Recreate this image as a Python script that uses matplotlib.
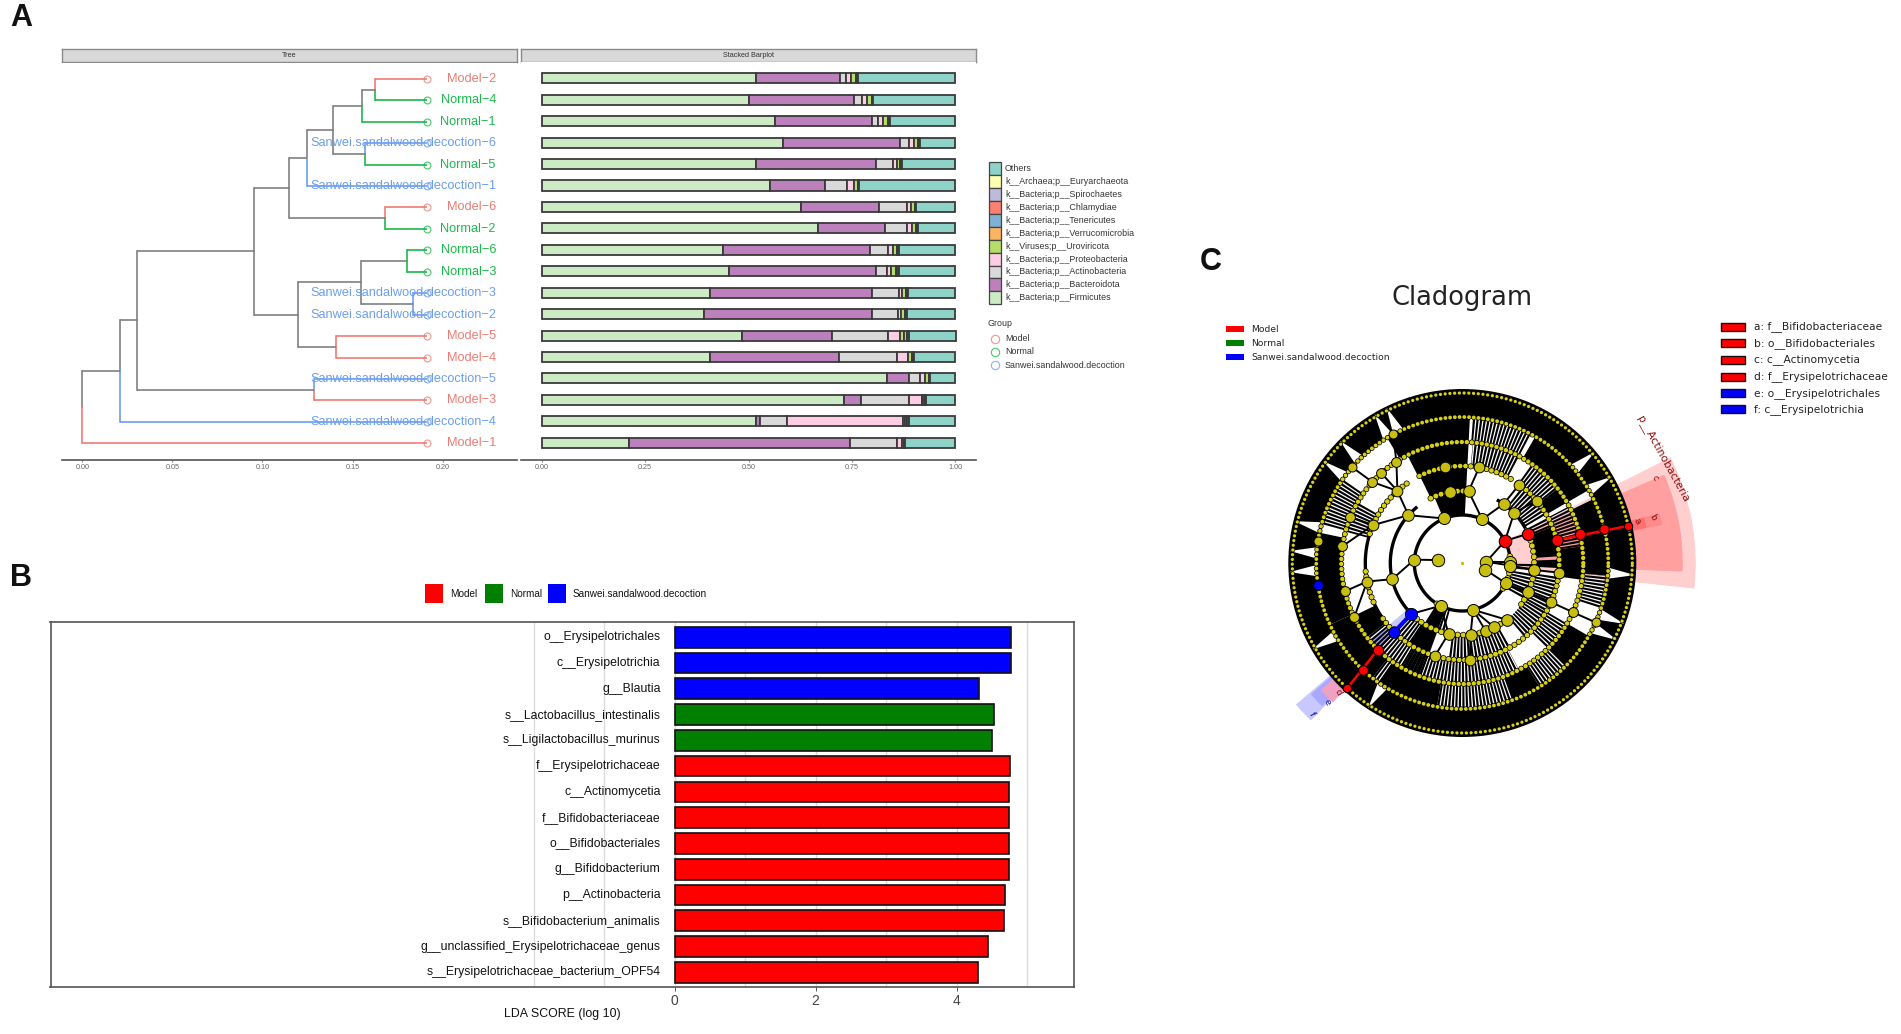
import numpy as np
import matplotlib
matplotlib.use("Agg")
import matplotlib.pyplot as plt
from matplotlib.patches import Rectangle

plt.rcParams['font.family'] = ['Liberation Sans', 'DejaVu Sans']
plt.rcParams['lines.scale_dashes'] = False

W, H = 1901, 1034

# --- Panel A: tree + stacked bars ---
SAMPLES = ["Model-2", "Normal-4", "Normal-1", "Sanwei.sandalwood.decoction-6", "Normal-5",
           "Sanwei.sandalwood.decoction-1", "Model-6", "Normal-2", "Normal-6", "Normal-3",
           "Sanwei.sandalwood.decoction-3", "Sanwei.sandalwood.decoction-2", "Model-5", "Model-4",
           "Sanwei.sandalwood.decoction-5", "Model-3", "Sanwei.sandalwood.decoction-4", "Model-1"]

# (branch position, upper child, lower child), tips are sample names
TREE = (0.0,
        (0.0207,
         (0.0306,
          (0.0954,
           (0.1145,
            (0.1245,
             (0.1392,
              (0.1551, (0.1625, "Model-2", "Normal-4"), "Normal-1"),
              (0.1568, "Sanwei.sandalwood.decoction-6", "Normal-5")),
             "Sanwei.sandalwood.decoction-1"),
            (0.1683, "Model-6", "Normal-2")),
           (0.1195,
            (0.1545,
             (0.1805, "Normal-6", "Normal-3"),
             (0.1837, "Sanwei.sandalwood.decoction-3", "Sanwei.sandalwood.decoction-2")),
            (0.1411, "Model-5", "Model-4"))),
          (0.1285, "Sanwei.sandalwood.decoction-5", "Model-3")),
         "Sanwei.sandalwood.decoction-4"),
        "Model-1")
TIP_X = 0.1913

firmicutes = [.517, .501, .564, .583, .517, .553, .628, .669, .438, .453, .407, .393, .484, .407, .836, .732, .519, .211]
bacteroidota = [.205, .253, .235, .283, .292, .131, .187, .162, .355, .356, .392, .406, .217, .311, .052, .039, .008, .535]
actinobacteria = [.013, .020, .013, .023, .040, .054, .068, .052, .044, .025, .065, .063, .136, .141, .026, .118, .067, .113]
proteobacteria = [.014, .013, .013, .012, .009, .016, .010, .012, .012, .011, .007, .007, .030, .027, .012, .030, .280, .011]
uroviricota = [.012, .012, .012, .009, .009, .010, .009, .010, .010, .012, .010, .010, .010, .009, .010, .003, .005, .007]
verrucomicrobia = [.002, .002, .002, .002, .002, .002, .002, .003, .002, .003, .002, .002, .005, .002, .002, .004, .005, .001]
tenericutes = [.001, .001, .002, .002, .001, .002, .001, .002, .002, .003, .002, .002, .005, .002, .001, .003, .005, .000]
others = [.236, .198, .159, .086, .130, .232, .095, .090, .137, .137, .115, .117, .115, .101, .061, .071, .111, .122]

PHYLA = ["k__Bacteria;p__Firmicutes", "k__Bacteria;p__Bacteroidota", "k__Bacteria;p__Actinobacteria",
         "k__Bacteria;p__Proteobacteria", "k__Viruses;p__Uroviricota", "k__Bacteria;p__Verrucomicrobia",
         "k__Bacteria;p__Tenericutes", "k__Bacteria;p__Chlamydiae", "k__Bacteria;p__Spirochaetes",
         "k__Archaea;p__Euryarchaeota", "Others"]
PHYLA_COLORS = ["#CCEBC5", "#BC80BD", "#D9D9D9", "#FCCDE5", "#B3DE69", "#FDB462",
                "#80B1D3", "#FB8072", "#BEBADA", "#FFFFB3", "#8DD3C7"]
STACK = [firmicutes, bacteroidota, actinobacteria, proteobacteria, uroviricota,
         verrucomicrobia, tenericutes, others]
STACK_COLORS = ["#CCEBC5", "#BC80BD", "#D9D9D9", "#FCCDE5", "#B3DE69", "#FDB462", "#80B1D3", "#8DD3C7"]

GROUP_NAMES = ["Model", "Normal", "Sanwei.sandalwood.decoction"]
GROUP_COLORS = {"Model": "#EE7B73", "Normal": "#1DB84C", "Sanwei": "#6C9EF0"}

# --- Panel B: LDA scores ---
lda_labels = ["o__Erysipelotrichales", "c__Erysipelotrichia", "g__Blautia", "s__Lactobacillus_intestinalis",
              "s__Ligilactobacillus_murinus", "f__Erysipelotrichaceae", "c__Actinomycetia",
              "f__Bifidobacteriaceae", "o__Bifidobacteriales", "g__Bifidobacterium", "p__Actinobacteria",
              "s__Bifidobacterium_animalis", "g__unclassified_Erysipelotrichaceae_genus",
              "s__Erysipelotrichaceae_bacterium_OPF54"]
lda_scores = [4.776, 4.776, 4.32, 4.527, 4.507, 4.756, 4.746, 4.746, 4.746, 4.746, 4.687, 4.677, 4.438, 4.30]
lda_groups = ["Sanwei"] * 3 + ["Normal"] * 2 + ["Model"] * 9
LDA_COLORS = {"Model": "#FF0000", "Normal": "#007F00", "Sanwei": "#0000FF"}

# --- Panel C: cladogram, angles in degrees, radii in px ---
CLADE_LEGEND = ["a: f__Bifidobacteriaceae", "b: o__Bifidobacteriales", "c: c__Actinomycetia",
                "d: f__Erysipelotrichaceae", "e: o__Erysipelotrichales", "f: c__Erysipelotrichia"]
CLADE_LEGEND_COLORS = ["#FF0000"] * 4 + ["#0000FF"] * 2
RINGS = [24, 48, 72, 97, 121, 146, 170]

# solid black and striped stretches of each gap between rings (inner ring index -> spans)
gap_solid = {1: [(87, 113), (238, 250)],
             2: [(87, 116), (4, 22), (-3, 2), (236, 250)],
             3: [(87, 117), (30, 38), (-8, 8), (206, 218)],
             4: [(87, 121), (30, 60), (-5, 26), (-45, -30), (-70, -58), (-125, -100), (168, 205), (205, 232)],
             5: [(0, 360)]}
gap_stripes = {1: [(-30, -8), (-6, 0), (250, 256)],
               2: [(-30, -8), (30, 52), (225, 236), (22, 28), (-50, -30), (-98, -60)],
               3: [(-45, -30), (8, 28), (38, 55), (62, 85), (218, 250), (-120, -62), (150, 165)],
               4: [(62, 86), (145, 165), (-18, -5), (-58, -45), (-100, -70), (232, 240)]}
# rings carrying the small dots
bead_spans = {1: [(108, 116), (-32, 8), (238, 248)],
              2: [(85, 118), (-35, 22), (222, 308)],
              3: [(60, 118), (5, 58), (-70, 5), (215, 300), (125, 165), (185, 205)],
              4: [(0, 360)],
              5: [(0, 360)],
              6: [(0, 360)]}
bead_widths = {1: 3.6, 2: 3.6, 3: 3.4, 4: 3.2, 5: 2.8, 6: 2.4}
bead_steps = {1: 4.0, 2: 4.0, 3: 3.8, 4: 3.6, 5: 3.4, 6: 3.4}
# black clade arcs
clade_arcs = [(48, 0, 360), (72, 130, 225), (72, 250, 308), (97, 135, 225), (121, 145, 200), (72, 30, 60)]
# white spikes through the outer black band
spike_angles = [176, 166, 143.8, 135, 120.5, 116, -20.6, -26.5, -4, 210, 237, 183, 40, 30]

node_angles = {
    0: [173, 3, -16],
    1: [176, 112, 65.5, 27.3, 1, -3, -25, -77, 243],
    2: [138.4, 193, 55, 44, 24, 225, 259, -83.4, -71, -63.5, -52, -5.5, -24, 100, 85],
    3: [157, 132, 191, 54, 40, 13.7, 225.4, 253.6, -85.5, -5.7, -23.8, 100, 80],
    4: [157.6, 172, 138, 132, 123, 193.6, 206.7, 225.7, -24, 13.7],
    5: [171.3, 139, 118.3, 188.7, 227.3, 13.6, -24],
    6: [227.4, 12.6],
}
node_sizes = {0: 80, 1: 75, 2: 70, 3: 60, 4: 50, 5: 42, 6: 30}
red_nodes = [(1, 27.3), (2, 24), (3, 13.7), (4, 13.7), (5, 13.6), (6, 12.6), (4, 225.7), (5, 227.3), (6, 227.4)]
blue_nodes = [(2, 225), (3, 225.4), (5, 188.7)]
# highlight wedges: name, start, end, inner, outer, colour
clade_wedges = [("p", -6.2, 26.8, 47, 233, "#FFCFCF"), ("c", -2.1, 23.5, 72, 220, "#FF9F9F"),
                ("b", 10.9, 14.0, 97, 203, "#FF8A8A"), ("a", 10.9, 13.9, 121, 187, "#FF7070"),
                ("f", 220.5, 226.0, 71, 218, "#C8C8FF"), ("e", 221.0, 225.5, 97, 200, "#A8A8FF"),
                ("d", 222.0, 227.0, 121, 190, "#F0A0C0")]
CLADE_YELLOW = "#C8BE10"
BEAD_YELLOW = "#D8D014"


def px_axes(x0, y0, x1, y1, **kwargs):
    return fig.add_axes([x0 / W, 1 - y1 / H, (x1 - x0) / W, (y1 - y0) / H], **kwargs)


def group_of(name):
    return name.split(".")[0].split("-")[0]


def draw_tree(ax, node, rows):
    """Draws a clade and returns (x, y, colour) of its top."""
    if isinstance(node, str):
        c = GROUP_COLORS[group_of(node)]
        return TIP_X, rows[node], c
    x = node[0]
    ys = []
    for child in node[1:]:
        cx, cy, c = draw_tree(ax, child, rows)
        ax.plot([x, cx], [cy, cy], color=c, lw=1.2, solid_capstyle='butt', zorder=2)
        ys.append((cy, c))
    mid = sum(y for y, _ in ys) / 2
    for cy, c in ys:
        ax.plot([x, x], [mid, cy], color=c, lw=1.2, solid_capstyle='projecting', zorder=2)
    return x, mid, "#808080"


def strip(x0, y0, x1, y1, label):
    sax = px_axes(x0, y0, x1, y1)
    sax.set_xticks([])
    sax.set_yticks([])
    sax.set_facecolor("#D9D9D9")
    for s in sax.spines.values():
        s.set_color("#8A8A8A")
        s.set_linewidth(1.0)
    sax.text(0.5, 0.5, label, ha='center', va='center', fontsize=5.2, color="#333333", transform=sax.transAxes)


def facet_axis(ax, ticks, labels):
    for s in ("top", "left", "right"):
        ax.spines[s].set_visible(False)
    ax.spines["bottom"].set_color("#555555")
    ax.spines["bottom"].set_linewidth(1.2)
    ax.set_yticks([])
    ax.set_xticks(ticks)
    ax.set_xticklabels(labels, fontsize=5.2, color="#666666")
    ax.tick_params(axis='x', length=1.5, width=0.5, color="#555555", pad=1.5)


fig = plt.figure(figsize=(W / 100, H / 100), dpi=100, facecolor="white")

# overlay for legends and panel letters, works in image pixels
over = fig.add_axes([0, 0, 1, 1], zorder=10)
over.set_xlim(0, W)
over.set_ylim(H, 0)
over.axis("off")
over.patch.set_alpha(0)

for letter, x, y in [("A", 21, 18), ("B", 21, 578), ("C", 1211, 262)]:
    over.text(x, y, letter, fontsize=22, fontweight='bold', ha='center', va='center', color="#111111")

# --- A: tree ---
rows = {name: len(SAMPLES) - 1 - i for i, name in enumerate(SAMPLES)}
strip(62, 49, 517, 62, "Tree")
tree_ax = px_axes(62, 62.5, 517, 460)
tree_ax.set_xlim(-0.01127, 0.2413)
tree_ax.set_ylim(-0.78, 17.76)
_, root_y, _ = draw_tree(tree_ax, TREE, rows)
for name in SAMPLES:
    c = GROUP_COLORS[group_of(name)]
    tree_ax.plot(TIP_X, rows[name], 'o', mfc='none', mec=c, mew=0.8, ms=5, alpha=0.8, zorder=3)
    tree_ax.text(0.2296, rows[name], name.replace("-", "\u2212"), color=c, fontsize=9.2,
                 ha='right', va='center', zorder=4)
facet_axis(tree_ax, [0, 0.05, 0.10, 0.15, 0.20], ["0.00", "0.05", "0.10", "0.15", "0.20"])

# --- A: stacked bars ---
strip(521, 49, 976, 62, "Stacked Barplot")
bar_ax = px_axes(521, 62, 976, 459.5)
bar_ax.set_xlim(-0.05, 1.05)
bar_ax.set_ylim(-0.78, 17.76)
y_rows = [rows[name] for name in SAMPLES]
left = np.zeros(len(SAMPLES))
for vals, color in zip(STACK, STACK_COLORS):
    bar_ax.barh(y_rows, vals, left=left, height=0.47, color=color, edgecolor="#3A3A3A", linewidth=1.3)
    left = left + np.array(vals)
facet_axis(bar_ax, [0, 0.25, 0.5, 0.75, 1.0], ["0.00", "0.25", "0.50", "0.75", "1.00"])

# --- A: legends ---
for i, (name, color) in enumerate(zip(PHYLA[::-1], PHYLA_COLORS[::-1])):
    y = 168.7 + i * 12.9
    over.add_patch(Rectangle((988.5, y - 6.4), 12.5, 12.9, fc=color, ec="#444444", lw=0.9))
    over.text(1005, y, name, fontsize=6.4, va='center', color="#333333")
over.text(988, 324, "Group", fontsize=6.4, va='center', color="#333333")
for y, name, key in zip([338.7, 352, 365], GROUP_NAMES, ["Model", "Normal", "Sanwei"]):
    over.plot(994.7, y, 'o', mfc='none', mec=GROUP_COLORS[key], mew=0.8, ms=6, alpha=0.8)
    over.text(1005, y, name, fontsize=6.4, va='center', color="#333333")

# --- B: LDA bars ---
lda_ax = px_axes(50.5, 622.3, 1074, 987.3)
lda_y = np.arange(len(lda_labels))[::-1]
lda_ax.barh(lda_y, lda_scores, height=0.8, color=[LDA_COLORS[g] for g in lda_groups],
            edgecolor="#111111", linewidth=1.2, zorder=3)
lda_ax.set_xlim(-8.855, 5.665)
lda_ax.set_ylim(-0.58, 13.58)
lda_ax.set_yticks([])
lda_ax.set_xticks([0, 2, 4])
lda_ax.set_xticks([-2, -1, 1, 3, 5], minor=True)
lda_ax.grid(axis='x', which='both', color="#DCDCDC", lw=1.0, zorder=0)
lda_ax.tick_params(axis='x', which='major', length=3, width=0.7, color="#555555", labelsize=10,
                   labelcolor="#444444", pad=2)
lda_ax.tick_params(axis='x', which='minor', length=0)
for s in lda_ax.spines.values():
    s.set_color("#555555")
    s.set_linewidth(1.2)
for y, label in zip(lda_y, lda_labels):
    lda_ax.text(-0.2, y, label, ha='right', va='center', fontsize=8.8, color="#111111", zorder=4)
over.text(562, 1014, "LDA SCORE (log 10)", fontsize=8.9, ha='center', va='center', color="#111111")
for x0, name, key, tx in [(425, "Model", "Model", 450), (485, "Normal", "Normal", 510),
                          (548, "Sanwei.sandalwood.decoction", "Sanwei", 573)]:
    over.add_patch(Rectangle((x0, 584), 18, 19, fc=LDA_COLORS[key], ec="none"))
    over.text(tx, 594, name, fontsize=7.2, va='center', color="#111111")

# --- C: cladogram ---
clado_font = ['DejaVu Sans']
over.text(1462, 298, "Cladogram", fontsize=18.5, ha='center', va='center', family=clado_font, color="#222222")
for y, name, key in zip([329.3, 343.3, 357], GROUP_NAMES, ["Model", "Normal", "Sanwei"]):
    over.add_patch(Rectangle((1226, y - 3), 18, 6, fc=LDA_COLORS[key], ec="none"))
    over.text(1251, y, name, fontsize=6.6, va='center', family=clado_font, color="#222222")
for y, name, color in zip([326.7, 343.3, 360, 376.7, 393.3, 409.3], CLADE_LEGEND, CLADE_LEGEND_COLORS):
    over.add_patch(Rectangle((1721, y - 4), 24, 8, fc=color, ec="#111111", lw=1.0))
    over.text(1753.5, y, name, fontsize=7.7, va='center', family=clado_font, color="#222222")

cax = px_axes(1222.3, 323, 1702.3, 803, projection='polar')
cax.set_ylim(0, 240)
cax.axis("off")
cax.patch.set_alpha(0)


def rad(a):
    return np.deg2rad(a)


def arc(a0, a1):
    return rad(np.linspace(a0, a1, max(int(abs(a1 - a0) * 2), 2)))


for _, a0, a1, r0, r1, color in clade_wedges:
    cax.bar(rad((a0 + a1) / 2), r1 - r0, width=rad(a1 - a0), bottom=r0, color=color, ec=color,
            lw=0.6, zorder=1)

for i, spans in gap_solid.items():
    r0 = RINGS[i]
    r1 = 174 if i == 5 else RINGS[i + 1]
    for a0, a1 in spans:
        cax.bar(rad((a0 + a1) / 2), r1 - r0, width=rad(a1 - a0), bottom=r0, color="black", lw=0, zorder=2)
for i, spans in gap_stripes.items():
    r0, r1 = RINGS[i], RINGS[i + 1]
    for a0, a1 in spans:
        t = arc(a0, a1)
        cax.plot(t, np.full_like(t, (r0 + r1) / 2), color="black", lw=(r1 - r0) * 0.72,
                 linestyle=(0, (1.5, 0.9)), dash_capstyle='butt', zorder=2)
for a in spike_angles:
    cax.fill(rad(np.array([a - 2.2, a, a + 2.2])), [146, 173, 146], color="white", lw=0, zorder=3)

for r, a0, a1 in clade_arcs:
    t = arc(a0, a1)
    cax.plot(t, np.full_like(t, r), color="black", lw=2.4, zorder=3)

# edges go to the nearest node one ring further in
for ring, angles in node_angles.items():
    if ring == 0:
        continue
    for a in angles:
        parents = np.array(node_angles[ring - 1])
        diff = np.abs((parents - a + 180) % 360 - 180)
        if diff.min() < 45:
            p = parents[diff.argmin()]
            cax.plot(rad([p, a]), [RINGS[ring - 1], RINGS[ring]], color="black", lw=1.4, zorder=3)

for ring, spans in bead_spans.items():
    ms = bead_widths[ring]
    step = bead_steps[ring]
    for a0, a1 in spans:
        t = arc(a0, a1)
        r = np.full_like(t, RINGS[ring])
        cax.plot(t, r, color="black", lw=ms + 1.0, linestyle=(0, (0.01, step)), dash_capstyle='round', zorder=4)
        cax.plot(t, r, color=BEAD_YELLOW, lw=ms, linestyle=(0, (0.01, step)), dash_capstyle='round', zorder=5)

for ring, angles in node_angles.items():
    t = rad(np.array(angles))
    cax.scatter(t, np.full_like(t, RINGS[ring]), s=node_sizes[ring], c=CLADE_YELLOW, edgecolors="black",
                linewidths=0.7, zorder=6)
cax.scatter([0], [0], s=2, c=CLADE_YELLOW, zorder=6)

for (r0, a0), (r1, a1) in [((3, 13.7), (6, 12.6)), ((4, 225.7), (6, 227.4))]:
    cax.plot(rad([a0, a1]), [RINGS[r0], RINGS[r1]], color="#FF0000", lw=1.8, zorder=6.5)
cax.plot(rad([225, 225.4]), [72, 97], color="#0000FF", lw=3, zorder=6.5)
for ring, a in red_nodes:
    cax.scatter(rad(a), RINGS[ring], s=node_sizes[ring] + 6, c="#FF0000", edgecolors="black", linewidths=0.8, zorder=7)
for ring, a in blue_nodes:
    cax.scatter(rad(a), RINGS[ring], s=node_sizes[ring] + 6, c="#0000FF", edgecolors="black", linewidths=0.6, zorder=7)

over.text(1663, 459, "p__Actinobacteria", fontsize=7.8, color="#8B1010", rotation=-61, ha='center',
          va='center', family=clado_font)
for letter, x, y, color in [("c", 1655, 478, "#8B1010"), ("b", 1653, 517, "#8B1010"), ("a", 1637, 521, "#8B1010"),
                            ("f", 1312, 714, "#1010A0"), ("e", 1327, 702, "#1010A0"), ("d", 1338, 692, "#8B1010")]:
    over.text(x, y, letter, fontsize=6.5, color=color, ha='center', va='center', rotation=-60, family=clado_font)

fig.savefig("out.png", dpi=100, facecolor="white")
